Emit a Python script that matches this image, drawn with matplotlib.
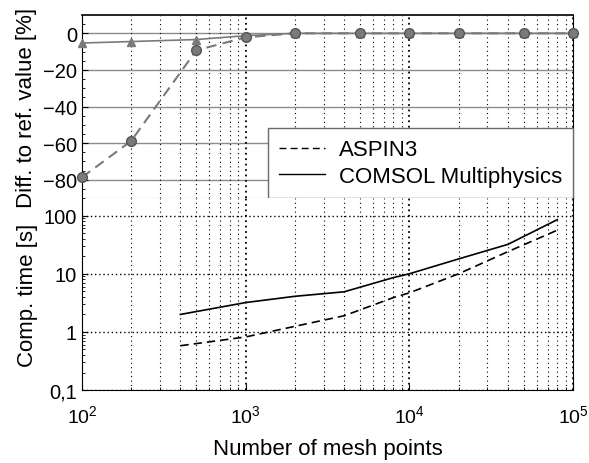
import matplotlib
matplotlib.use("Agg")
import matplotlib.pyplot as plt
from matplotlib.ticker import LogLocator, FixedLocator, NullFormatter, FixedFormatter

plt.rcParams['font.family'] = ['Liberation Sans', 'DejaVu Sans']
plt.rcParams['mathtext.fontset'] = 'custom'
plt.rcParams['mathtext.rm'] = 'Liberation Sans'
plt.rcParams['mathtext.it'] = 'Liberation Sans'

# Top panel: difference to reference value [%]
mesh_top = [100, 200, 500, 1000, 2000, 5000, 10000, 20000, 50000, 100000]
aspin_diff = [-78.7, -58.8, -9.3, -2.2, 0, 0, 0, 0, 0, 0]
comsol_diff = [-5.3, -4.5, -3.4, -1.3, 0, 0, 0, 0, 0, 0]

# Bottom panel: computation time [s]
mesh_time = [400, 1000, 2000, 4000, 8000, 10000, 20000, 40000, 80000]
aspin_time = [0.58, 0.82, 1.25, 1.9, 3.9, 4.7, 10, 24, 56]
comsol_time = [2.0, 3.2, 4.1, 4.9, 8.6, 10, 18, 32, 85]

xticks = [1e2, 1e3, 1e4, 1e5]
xticklabels = ['$\\mathrm{10^2}$', '$\\mathrm{10^3}$', '$\\mathrm{10^4}$', '$\\mathrm{10^5}$']
top_yticks = [0, -20, -40, -60, -80]
bot_yticks = [0.1, 1, 10, 100]
bot_yticklabels = ['0,1', '1', '10', '100']

fig = plt.figure(figsize=(5.89, 4.64), dpi=100)
ax1 = fig.add_axes([0.139, 0.571, 0.834, 0.3945])
ax2 = fig.add_axes([0.139, 0.157, 0.834, 0.414])

gray = '#7a7a7a'
fs = 16
yfs = 14.5
xfs = 14

# ---- top panel
ax1.set_xscale('log')
ax1.set_xlim(1e2, 1e5)
ax1.set_ylim(-90, 10)
for y in top_yticks:
    ax1.axhline(y, color='#8c8c8c', lw=1.0, zorder=1)
ax1.xaxis.set_minor_locator(LogLocator(base=10, subs=range(2, 10)))
ax1.grid(True, axis='x', which='minor', color='black', ls=(0, (1, 3)), lw=0.8)
ax1.grid(True, axis='x', which='major', color='black', ls=(0, (1, 2)), lw=1.3)
ax1.plot(mesh_top, comsol_diff, color=gray, lw=1.2, marker='^', ms=6,
         mfc=gray, mec=gray, zorder=3, clip_on=False)
ax1.plot(mesh_top, aspin_diff, color=gray, lw=1.5, ls=(0, (5, 3)), marker='o', ms=7,
         mfc=gray, mec='#555555', zorder=3, clip_on=False)
ax1.set_yticks(top_yticks)
ax1.yaxis.set_minor_locator(FixedLocator(list(range(-85, 10, 5))))
ax1.tick_params(axis='both', which='both', direction='in', labelsize=yfs)
ax1.tick_params(axis='x', which='both', bottom=False, labelbottom=False, top=False)
ax1.tick_params(axis='y', which='major', length=4)
ax1.tick_params(axis='y', which='minor', length=2)
ax1.set_ylabel('Diff. to ref. value [%]', fontsize=fs, labelpad=4)
ax1.spines['bottom'].set_color('#8c8c8c')
ax1.spines['right'].set_color('black')
ax1.spines['top'].set_linewidth(1.2)

# legend handles
la, = ax1.plot([], [], color='black', ls=(0, (5, 3)), lw=1.0, label='ASPIN3')
lc, = ax1.plot([], [], color='black', lw=1.0, label='COMSOL Multiphysics')
leg = ax1.legend(handles=[la, lc], loc='lower right', bbox_to_anchor=(1.0, 0.0),
                 fontsize=fs, frameon=True, fancybox=False, framealpha=1,
                 edgecolor='#6a6a6a', borderpad=0.5, handlelength=2.1,
                 handletextpad=0.6, labelspacing=0.25, borderaxespad=0.0)
leg.get_frame().set_linewidth(1.0)
leg.set_zorder(5)

# ---- bottom panel
ax2.set_xscale('log')
ax2.set_yscale('log')
ax2.set_xlim(1e2, 1e5)
ax2.set_ylim(0.1, 200)
ax2.plot(mesh_time, comsol_time, color='black', lw=1.2, zorder=3)
ax2.plot(mesh_time, aspin_time, color='black', lw=1.2, ls=(0, (5, 3)), zorder=3)
ax2.xaxis.set_minor_locator(LogLocator(base=10, subs=range(2, 10)))
ax2.xaxis.set_minor_formatter(NullFormatter())
ax2.yaxis.set_minor_locator(LogLocator(base=10, subs=range(2, 10)))
ax2.yaxis.set_minor_formatter(NullFormatter())
ax2.set_xticks(xticks)
ax2.set_xticklabels(xticklabels)
ax2.yaxis.set_major_locator(FixedLocator(bot_yticks))
ax2.yaxis.set_major_formatter(FixedFormatter(bot_yticklabels))
ax2.grid(True, axis='x', which='minor', color='black', ls=(0, (1, 3)), lw=0.8)
ax2.grid(True, axis='x', which='major', color='black', ls=(0, (1, 2)), lw=1.3)
ax2.grid(True, axis='y', which='major', color='black', ls=(0, (1, 2)), lw=1.0)
ax2.tick_params(axis='both', which='both', direction='in')
ax2.tick_params(axis='y', labelsize=yfs)
ax2.tick_params(axis='x', labelsize=xfs)
ax2.tick_params(axis='both', which='major', length=4)
ax2.tick_params(axis='both', which='minor', length=2)
ax2.tick_params(axis='x', which='major', pad=10)
ax2.spines['top'].set_visible(False)
ax2.set_ylabel('Comp. time [s]', fontsize=fs, labelpad=4)
ax2.set_xlabel('Number of mesh points', fontsize=fs, labelpad=9)

fig.savefig('out.png', dpi=100)
